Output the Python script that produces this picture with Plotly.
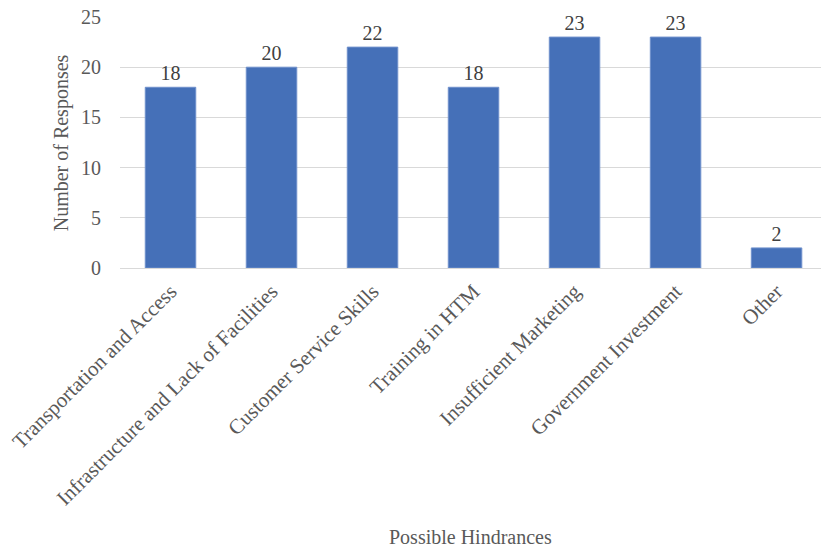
import plotly.graph_objects as go

categories = ["Transportation and Access", "Infrastructure and Lack of Facilities",
              "Customer Service Skills", "Training in HTM", "Insufficient Marketing",
              "Government Investment", "Other"]
responses = [18, 20, 22, 18, 23, 23, 2]
y_ticks = [0, 5, 10, 15, 20, 25]

FONT = "Liberation Serif"

fig = go.Figure(go.Bar(
    x=categories, y=responses,
    marker=dict(color="#4570B8", line=dict(color="#6f90cc", width=1)),
    width=0.5,
    text=responses, textposition="outside", cliponaxis=False,
    textfont=dict(family=FONT, size=20, color="#404040"),
))

fig.update_layout(
    width=821, height=549,
    margin=dict(l=120, r=0, t=17, b=281),
    paper_bgcolor="white", plot_bgcolor="white",
    showlegend=False,
    font=dict(family=FONT, size=20, color="#595959"),
    xaxis=dict(range=[-0.5, 6.44], tickangle=-45, showgrid=False,
               showline=False, ticks="", ticklabelstandoff=6,
               tickfont=dict(family=FONT, size=21, color="#595959")),
    yaxis=dict(range=[0, 25], tickvals=y_ticks, showgrid=True, gridcolor="#d9d9d9",
               gridwidth=1, zeroline=True, zerolinecolor="#d9d9d9", zerolinewidth=1,
               ticks="", ticklabelstandoff=18, tickfont=dict(family=FONT, size=20, color="#595959")),
    annotations=[
        dict(text="Possible Hindrances", xref="paper", yref="paper", x=0.5, y=-1.07,
             xanchor="center", yanchor="middle", showarrow=False,
             font=dict(family=FONT, size=20, color="#595959")),
        dict(text="Number of Responses", xref="paper", yref="paper", x=-0.083, y=0.5,
             xanchor="center", yanchor="middle", showarrow=False, textangle=-90,
             font=dict(family=FONT, size=20, color="#595959")),
    ],
    bargap=0.5,
)

fig.write_html("out.html")
